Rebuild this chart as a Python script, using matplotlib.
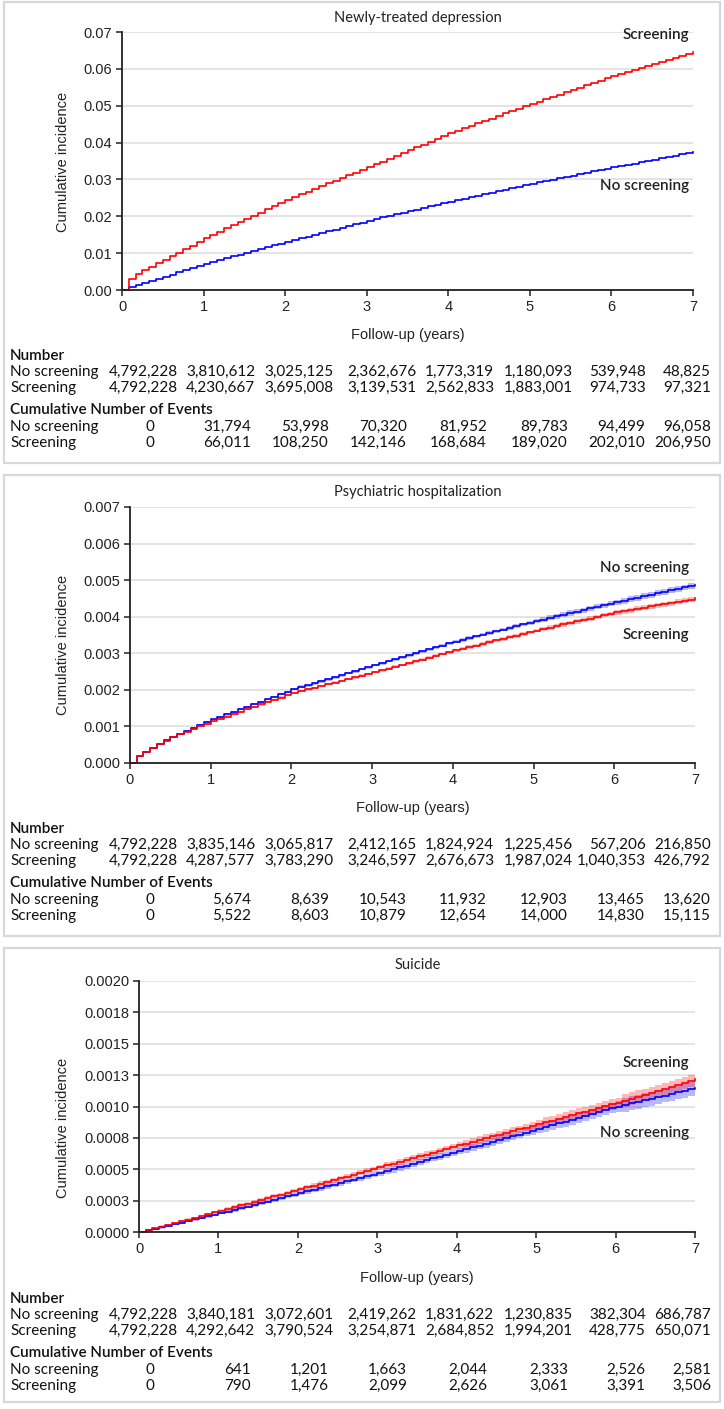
import numpy as np
import matplotlib
matplotlib.use("Agg")
import matplotlib.pyplot as plt
from matplotlib.patches import Rectangle

plt.rcParams['font.family'] = ['Liberation Sans', 'DejaVu Sans']

# ---- data ----
year_ticks = [0, 1, 2, 3, 4, 5, 6, 7]
months = np.arange(85) / 12.0   # monthly steps, 0..7 years

# Newly-treated depression (cumulative incidence, monthly)
dep_scr = [0, .0030, .0043, .0053, .0063, .0072, .0082, .0092, .0101, .0111, .0120, .0130, .0140,
           .0149, .0158, .0167, .0176, .0184, .0193, .0201, .0210, .0219, .0228, .0236, .0245,
           .0252, .0260, .0267, .0274, .0282, .0289, .0296, .0304, .0311, .0318, .0326, .0333,
           .0341, .0348, .0356, .0364, .0371, .0379, .0387, .0394, .0402, .0410, .0417, .0425,
           .0432, .0439, .0445, .0452, .0459, .0465, .0472, .0479, .0485, .0492, .0499, .0505,
           .0511, .0517, .0524, .0530, .0536, .0542, .0549, .0555, .0561, .0567, .0574, .0580,
           .0585, .0591, .0596, .0602, .0607, .0612, .0618, .0623, .0629, .0634, .0640, .0645]
dep_noscr = [0, .0007, .0013, .0019, .0025, .0030, .0036, .0042, .0048, .0054, .0059, .0065, .0071,
             .0076, .0081, .0086, .0091, .0096, .0101, .0106, .0111, .0116, .0121, .0126, .0131,
             .0136, .0140, .0145, .0150, .0155, .0160, .0164, .0169, .0174, .0179, .0183, .0188,
             .0192, .0197, .0201, .0205, .0210, .0214, .0218, .0223, .0227, .0231, .0236, .0240,
             .0244, .0248, .0252, .0256, .0260, .0264, .0268, .0272, .0276, .0280, .0284, .0288,
             .0292, .0295, .0299, .0303, .0307, .0310, .0314, .0318, .0322, .0325, .0329, .0333,
             .0336, .0340, .0343, .0347, .0350, .0354, .0357, .0361, .0364, .0368, .0371, .0375]

# Psychiatric hospitalization
hosp_scr = [0, .00018, .00031, .00042, .00052, .00061, .00070, .00078, .00086, .00093, .00100, .00107, .00114,
            .00121, .00127, .00134, .00140, .00147, .00153, .00160, .00166, .00173, .00179, .00186, .00192,
            .00197, .00201, .00206, .00211, .00215, .00220, .00225, .00229, .00234, .00239, .00243, .00248,
            .00253, .00258, .00263, .00268, .00273, .00278, .00283, .00288, .00293, .00298, .00303, .00308,
            .00313, .00317, .00321, .00326, .00330, .00335, .00339, .00344, .00348, .00353, .00357, .00362,
            .00366, .00370, .00374, .00379, .00383, .00387, .00391, .00395, .00399, .00404, .00408, .00412,
            .00415, .00418, .00422, .00425, .00428, .00431, .00434, .00437, .00441, .00444, .00447, .00450]
hosp_noscr = [0, .00018, .00031, .00042, .00052, .00062, .00071, .00080, .00088, .00096, .00104, .00112, .00119,
              .00126, .00133, .00140, .00147, .00154, .00161, .00167, .00174, .00181, .00188, .00195, .00202,
              .00208, .00213, .00218, .00224, .00229, .00235, .00240, .00246, .00251, .00257, .00262, .00268,
              .00273, .00279, .00284, .00289, .00295, .00300, .00305, .00311, .00316, .00321, .00327, .00332,
              .00337, .00341, .00346, .00351, .00355, .00360, .00365, .00369, .00374, .00379, .00383, .00388,
              .00392, .00397, .00401, .00405, .00410, .00414, .00418, .00423, .00427, .00431, .00436, .00440,
              .00444, .00448, .00452, .00456, .00460, .00464, .00468, .00472, .00476, .00480, .00484, .00488]
hosp_scr_ci = [0.00002, 0.00003, 0.00003, 0.00004, 0.00005, 0.00006, 0.00007]   # half width per year
hosp_noscr_ci = [0.00002, 0.00003, 0.00004, 0.00004, 0.00005, 0.00007, 0.00008]

# Suicide (per 10,000)
sui_scr_10k = [0, 0.14, 0.28, 0.42, 0.56, 0.70, 0.84, 0.98, 1.12, 1.27, 1.41, 1.56, 1.70,
               1.84, 1.98, 2.13, 2.27, 2.41, 2.55, 2.69, 2.84, 2.98, 3.12, 3.26, 3.40,
               3.55, 3.69, 3.84, 3.98, 4.13, 4.28, 4.42, 4.57, 4.71, 4.86, 5.00, 5.15,
               5.30, 5.44, 5.59, 5.73, 5.88, 6.02, 6.17, 6.32, 6.46, 6.61, 6.75, 6.90,
               7.04, 7.18, 7.33, 7.47, 7.61, 7.75, 7.89, 8.03, 8.18, 8.32, 8.46, 8.60,
               8.74, 8.88, 9.03, 9.17, 9.31, 9.45, 9.59, 9.73, 9.88, 10.02, 10.16, 10.30,
               10.46, 10.62, 10.78, 10.93, 11.09, 11.25, 11.41, 11.57, 11.73, 11.88, 12.04, 12.20]
sui_noscr_10k = [0, 0.12, 0.25, 0.37, 0.50, 0.62, 0.75, 0.87, 1.00, 1.12, 1.25, 1.37, 1.50,
                 1.63, 1.77, 1.90, 2.03, 2.17, 2.30, 2.43, 2.57, 2.70, 2.83, 2.97, 3.10,
                 3.23, 3.37, 3.50, 3.63, 3.77, 3.90, 4.03, 4.17, 4.30, 4.43, 4.57, 4.70,
                 4.85, 4.99, 5.14, 5.28, 5.43, 5.58, 5.72, 5.87, 6.01, 6.16, 6.30, 6.45,
                 6.60, 6.74, 6.89, 7.03, 7.18, 7.33, 7.47, 7.62, 7.76, 7.91, 8.05, 8.20,
                 8.35, 8.50, 8.65, 8.80, 8.95, 9.10, 9.25, 9.40, 9.55, 9.70, 9.85, 10.00,
                 10.12, 10.25, 10.37, 10.50, 10.62, 10.75, 10.87, 11.00, 11.12, 11.25, 11.37, 11.50]
sui_scr_ci_10k = [0.10, 0.15, 0.20, 0.25, 0.30, 0.40, 0.50]
sui_noscr_ci_10k = [0.10, 0.15, 0.20, 0.25, 0.30, 0.40, 0.55]

# risk tables
dep_n_noscr = [4792228, 3810612, 3025125, 2362676, 1773319, 1180093, 539948, 48825]
dep_n_scr = [4792228, 4230667, 3695008, 3139531, 2562833, 1883001, 974733, 97321]
dep_ev_noscr = [0, 31794, 53998, 70320, 81952, 89783, 94499, 96058]
dep_ev_scr = [0, 66011, 108250, 142146, 168684, 189020, 202010, 206950]

hosp_n_noscr = [4792228, 3835146, 3065817, 2412165, 1824924, 1225456, 567206, 216850]
hosp_n_scr = [4792228, 4287577, 3783290, 3246597, 2676673, 1987024, 1040353, 426792]
hosp_ev_noscr = [0, 5674, 8639, 10543, 11932, 12903, 13465, 13620]
hosp_ev_scr = [0, 5522, 8603, 10879, 12654, 14000, 14830, 15115]

sui_n_noscr = [4792228, 3840181, 3072601, 2419262, 1831622, 1230835, 382304, 686787]
sui_n_scr = [4792228, 4292642, 3790524, 3254871, 2684852, 1994201, 428775, 650071]
sui_ev_noscr = [0, 641, 1201, 1663, 2044, 2333, 2526, 2581]
sui_ev_scr = [0, 790, 1476, 2099, 2626, 3061, 3391, 3506]

sui_yticks = [0, 0.00025, 0.0005, 0.00075, 0.001, 0.00125, 0.0015, 0.00175, 0.002]
sui_yticklabels = ['0.0000', '0.0003', '0.0005', '0.0008', '0.0010',
                   '0.0013', '0.0015', '0.0018', '0.0020']


def ci_steps(half):
    return np.concatenate([[0.0], np.repeat(half, 12)])


panels = [
    dict(title="Newly-treated depression", scr=np.array(dep_scr), noscr=np.array(dep_noscr),
         scr_ci=None, noscr_ci=None, ymax=0.07, yticks=np.arange(0, 0.0701, 0.01),
         yfmt="{:.2f}", box=(4, 2, 720, 463), ax_px=(122, 693, 32, 290),
         title_y=18, ylab_y=162, xlab_y=335,
         lab_scr=("Screening", 35), lab_noscr=("No screening", 186),
         table=(dep_n_noscr, dep_n_scr, dep_ev_noscr, dep_ev_scr), table_y=356),
    dict(title="Psychiatric hospitalization", scr=np.array(hosp_scr), noscr=np.array(hosp_noscr),
         scr_ci=ci_steps(hosp_scr_ci), noscr_ci=ci_steps(hosp_noscr_ci),
         ymax=0.007, yticks=np.arange(0, 0.00701, 0.001),
         yfmt="{:.3f}", box=(4, 475, 720, 936), ax_px=(130, 695, 507, 763),
         title_y=492, ylab_y=645, xlab_y=808,
         lab_scr=("Screening", 635), lab_noscr=("No screening", 568),
         table=(hosp_n_noscr, hosp_n_scr, hosp_ev_noscr, hosp_ev_scr), table_y=829),
    dict(title="Suicide", scr=np.array(sui_scr_10k) / 1e4, noscr=np.array(sui_noscr_10k) / 1e4,
         scr_ci=ci_steps(sui_scr_ci_10k) / 1e4, noscr_ci=ci_steps(sui_noscr_ci_10k) / 1e4,
         ymax=0.002, yticks=sui_yticks, ylabels=sui_yticklabels,
         box=(4, 948, 720, 1402), ax_px=(139, 695, 981, 1232),
         title_y=965, ylab_y=1128, xlab_y=1278,
         lab_scr=("Screening", 1063), lab_noscr=("No screening", 1133),
         table=(sui_n_noscr, sui_n_scr, sui_ev_noscr, sui_ev_scr), table_y=1299),
]

W, H = 724, 1409
fig = plt.figure(figsize=(W / 100, H / 100), dpi=100)

RED = '#ff0000'
BLUE = '#0000ff'
TXT = 'Lato'
FS = 11
num_right = [178, 255, 333, 416, 494, 573, 646, 711]
ev_right = [None, 251, 329, 407, 487, 568, 645, 711]


def fx(px):
    return px / W


def fy(py):
    return 1 - py / H


for p in panels:
    bx0, by0, bx1, by1 = p['box']
    fig.patches.append(Rectangle((fx(bx0), fy(by1)), (bx1 - bx0) / W, (by1 - by0) / H,
                                 transform=fig.transFigure, fill=False,
                                 edgecolor='#d8d8d8', lw=1.6))
    x0, x1, yt, yb = p['ax_px']
    ax = fig.add_axes([fx(x0), fy(yb), (x1 - x0) / W, (yb - yt) / H])
    ax.set_xlim(0, 7)
    ax.set_ylim(0, p['ymax'])

    if p['noscr_ci'] is not None:
        ax.fill_between(months, p['noscr'] - p['noscr_ci'], p['noscr'] + p['noscr_ci'],
                        step='post', color=BLUE, alpha=0.28, lw=0)
        ax.fill_between(months, p['scr'] - p['scr_ci'], p['scr'] + p['scr_ci'],
                        step='post', color=RED, alpha=0.28, lw=0)
    ax.step(months, p['noscr'], where='post', color=BLUE, lw=1.2, clip_on=False)
    ax.step(months, p['scr'], where='post', color=RED, lw=1.2, clip_on=False)

    ax.set_xticks(year_ticks)
    ax.set_yticks(p['yticks'])
    if 'ylabels' in p:
        ax.set_yticklabels(p['ylabels'])
    else:
        ax.set_yticklabels([p['yfmt'].format(v) for v in p['yticks']])
    ax.grid(axis='y', color='#dcdcdc', lw=1.1)
    ax.set_axisbelow(True)
    for s in ['top', 'right']:
        ax.spines[s].set_visible(False)
    for s in ['left', 'bottom']:
        ax.spines[s].set_linewidth(1.3)
        ax.spines[s].set_color('#222222')
    ax.tick_params(direction='out', length=4, width=1.1, labelsize=10.5,
                   colors='#222222', pad=3)

    fig.text(fx(418), fy(p['title_y']), p['title'], family=TXT, fontsize=10.5,
             ha='center', va='center', color='#222222')
    fig.text(fx(63), fy(p['ylab_y']), "Cumulative incidence", fontsize=10.5,
             rotation=90, ha='center', va='center', color='#222222')
    fig.text(fx((x0 + x1) / 2), fy(p['xlab_y']), "Follow-up (years)", fontsize=10.5,
             ha='center', va='center', color='#222222')
    fig.text(fx(689), fy(p['lab_scr'][1]), p['lab_scr'][0], family=TXT, fontsize=FS,
             fontweight='semibold', ha='right', va='center', color='#222222')
    fig.text(fx(689), fy(p['lab_noscr'][1]), p['lab_noscr'][0], family=TXT, fontsize=FS,
             fontweight='semibold', ha='right', va='center', color='#222222')

    # risk table
    n_no, n_sc, ev_no, ev_sc = p['table']
    ty = p['table_y']
    rows = [("Number", None, ty, True),
            ("No screening", n_no, ty + 16, False),
            ("Screening", n_sc, ty + 32, False),
            ("Cumulative Number of Events", None, ty + 54, True),
            ("No screening", ev_no, ty + 71, False),
            ("Screening", ev_sc, ty + 87, False)]
    for i, (lab, vals, yy, head) in enumerate(rows):
        fig.text(fx(10), fy(yy), lab, family=TXT, fontsize=FS,
                 fontweight='semibold' if head else 'normal',
                 ha='left', va='center', color='#111111')
        if vals is None:
            continue
        is_ev = i >= 4
        for k, v in enumerate(vals):
            if is_ev and k == 0:
                fig.text(fx(150), fy(yy), f"{v:,}", family=TXT, fontsize=FS,
                         ha='center', va='center', color='#111111')
            else:
                xr = ev_right[k] if is_ev else num_right[k]
                fig.text(fx(xr), fy(yy), f"{v:,}", family=TXT, fontsize=FS,
                         ha='right', va='center', color='#111111')

fig.savefig("out.png", dpi=100)
